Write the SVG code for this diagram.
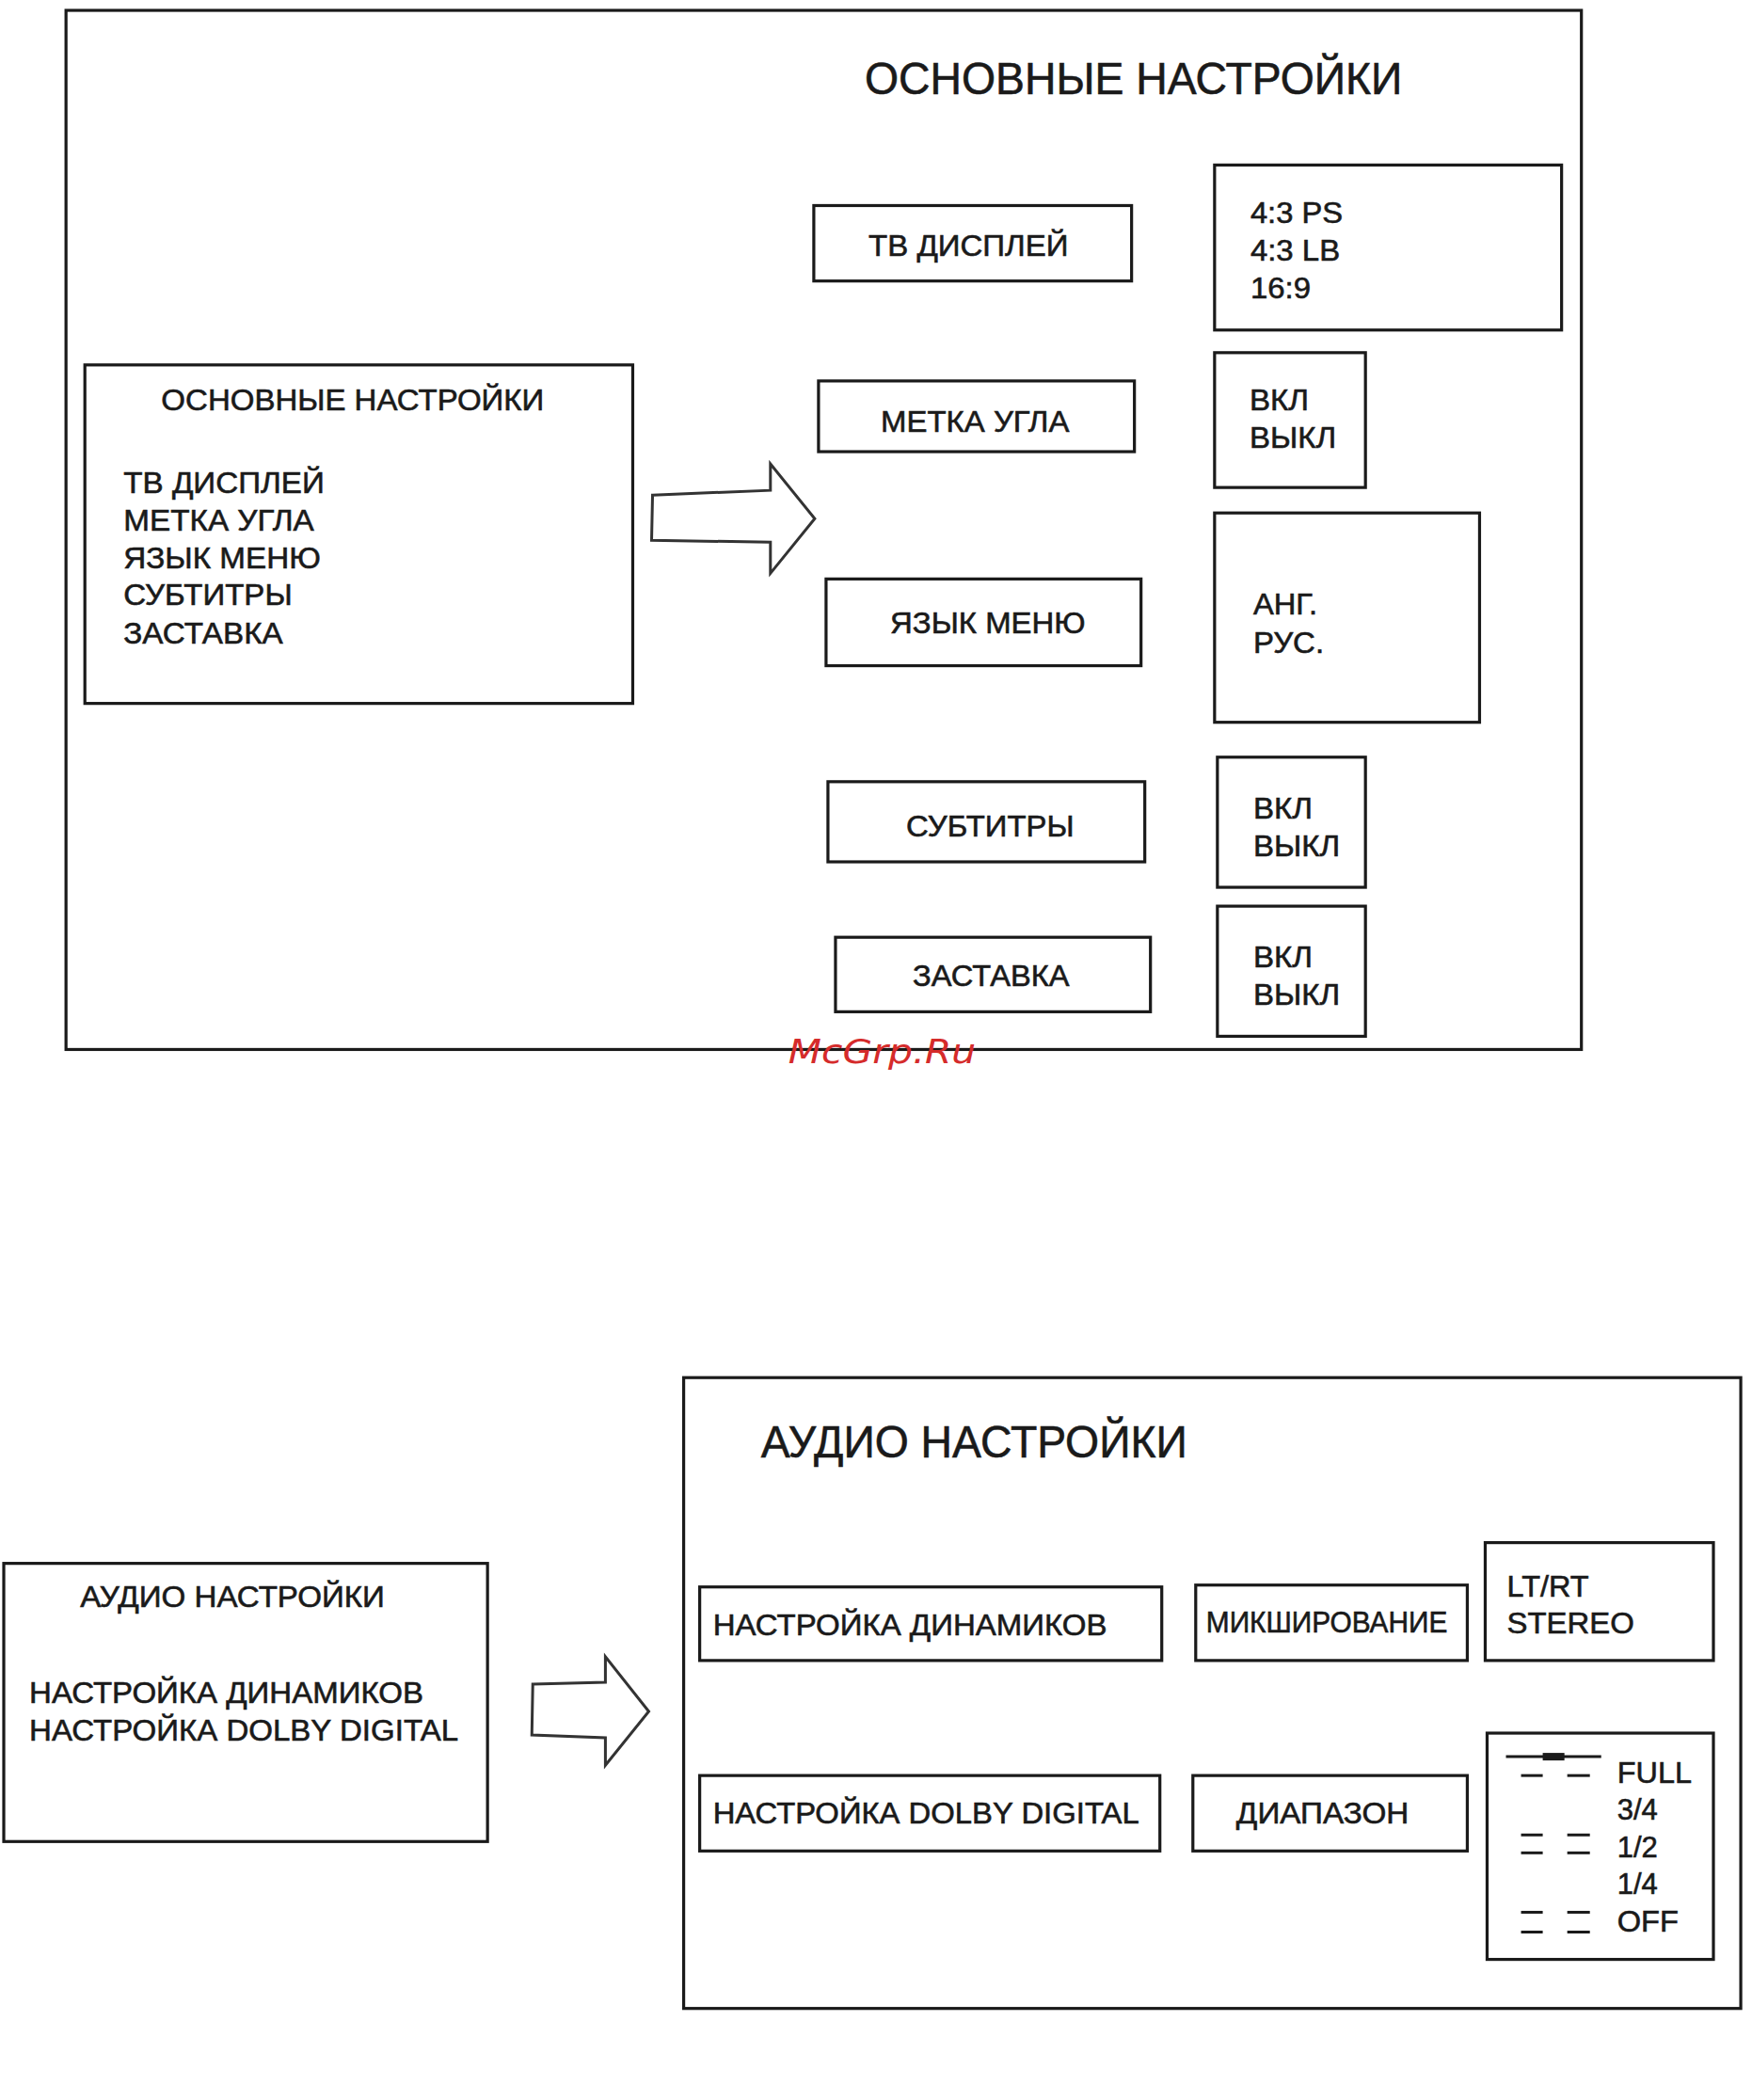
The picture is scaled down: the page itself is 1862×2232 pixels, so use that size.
<svg xmlns="http://www.w3.org/2000/svg" width="1862" height="2232" viewBox="0 0 1862 2232">
<style>
.b{fill:#fff;stroke:#1a1a1a;stroke-width:3.2}
.t{font-family:"Liberation Sans",Arial,sans-serif;font-size:32px;fill:#1a1a1a;stroke:#1a1a1a;stroke-width:0.6}
.h{font-family:"Liberation Sans",Arial,sans-serif;font-size:48px;fill:#1a1a1a;stroke:#1a1a1a;stroke-width:0.6}
.arr{fill:#fff;stroke:#333;stroke-width:3;stroke-linejoin:miter}
.d{stroke:#1a1a1a;stroke-width:3}
.wm{font-family:"DejaVu Sans",Verdana,sans-serif;font-style:italic;font-size:36px;fill:#d52b2b}
</style>
<rect width="1862" height="2232" fill="#fff"/>
<g id="diagram" transform="scale(1.0022)">

<g id="main-panel">
<rect class="b" x="70" y="11" width="1607" height="1102"/>
<text class="h" x="917" y="100" textLength="570" lengthAdjust="spacingAndGlyphs">ОСНОВНЫЕ НАСТРОЙКИ</text>
</g>

<g id="menu-main">
<rect class="b" x="90" y="387" width="581" height="359"/>
<text class="t" x="171" y="435" textLength="406" lengthAdjust="spacingAndGlyphs">ОСНОВНЫЕ НАСТРОЙКИ</text>
<text class="t" x="131" y="523" textLength="213" lengthAdjust="spacingAndGlyphs">ТВ ДИСПЛЕЙ</text>
<text class="t" x="131" y="563" textLength="202" lengthAdjust="spacingAndGlyphs">МЕТКА УГЛА</text>
<text class="t" x="131" y="603" textLength="209" lengthAdjust="spacingAndGlyphs">ЯЗЫК МЕНЮ</text>
<text class="t" x="131" y="642" textLength="179" lengthAdjust="spacingAndGlyphs">СУБТИТРЫ</text>
<text class="t" x="131" y="682" textLength="169" lengthAdjust="spacingAndGlyphs">ЗАСТАВКА</text>
</g>

<g id="tv-display">
<rect class="b" x="863" y="218" width="337" height="80"/>
<text class="t" x="921" y="271" textLength="212" lengthAdjust="spacingAndGlyphs">ТВ ДИСПЛЕЙ</text>
</g>
<g id="tv-options">
<rect class="b" x="1288" y="175" width="368" height="175"/>
<text class="t" x="1326" y="236" textLength="98" lengthAdjust="spacingAndGlyphs">4:3 PS</text>
<text class="t" x="1326" y="276" textLength="95" lengthAdjust="spacingAndGlyphs">4:3 LB</text>
<text class="t" x="1326" y="316" textLength="64" lengthAdjust="spacingAndGlyphs">16:9</text>
</g>

<g id="angle-mark">
<rect class="b" x="868" y="404" width="335" height="75"/>
<text class="t" x="934" y="458" textLength="200" lengthAdjust="spacingAndGlyphs">МЕТКА УГЛА</text>
</g>
<g id="angle-options">
<rect class="b" x="1288" y="374" width="160" height="143"/>
<text class="t" x="1325" y="435" textLength="63" lengthAdjust="spacingAndGlyphs">ВКЛ</text>
<text class="t" x="1325" y="475" textLength="92" lengthAdjust="spacingAndGlyphs">ВЫКЛ</text>
</g>

<g id="menu-lang">
<rect class="b" x="876" y="614" width="334" height="92"/>
<text class="t" x="944" y="672" textLength="207" lengthAdjust="spacingAndGlyphs">ЯЗЫК МЕНЮ</text>
</g>
<g id="lang-options">
<rect class="b" x="1288" y="544" width="281" height="222"/>
<text class="t" x="1329" y="652" textLength="68" lengthAdjust="spacingAndGlyphs">АНГ.</text>
<text class="t" x="1329" y="692" textLength="75" lengthAdjust="spacingAndGlyphs">РУС.</text>
</g>

<g id="subtitles">
<rect class="b" x="878" y="829" width="336" height="85"/>
<text class="t" x="961" y="887" textLength="178" lengthAdjust="spacingAndGlyphs">СУБТИТРЫ</text>
</g>
<g id="subtitle-options">
<rect class="b" x="1291" y="803" width="157" height="138"/>
<text class="t" x="1329" y="868" textLength="63" lengthAdjust="spacingAndGlyphs">ВКЛ</text>
<text class="t" x="1329" y="908" textLength="92" lengthAdjust="spacingAndGlyphs">ВЫКЛ</text>
</g>

<g id="screensaver">
<rect class="b" x="886" y="994" width="334" height="79"/>
<text class="t" x="968" y="1046" textLength="166" lengthAdjust="spacingAndGlyphs">ЗАСТАВКА</text>
</g>
<g id="screensaver-options">
<rect class="b" x="1291" y="961" width="157" height="138"/>
<text class="t" x="1329" y="1026" textLength="63" lengthAdjust="spacingAndGlyphs">ВКЛ</text>
<text class="t" x="1329" y="1066" textLength="92" lengthAdjust="spacingAndGlyphs">ВЫКЛ</text>
</g>

<g id="connectors">
<polygon class="arr" points="692,525 817,520 817,492 864,550 817,608 817,575 691,573"/>
<polygon class="arr" points="565,1786 642,1784 642,1757 688,1815 642,1872 642,1843 564,1840"/>
</g>

<g id="audio-menu">
<rect class="b" x="4" y="1658" width="513" height="295"/>
<text class="t" x="85" y="1704" textLength="323" lengthAdjust="spacingAndGlyphs">АУДИО НАСТРОЙКИ</text>
<text class="t" x="31" y="1806" textLength="418" lengthAdjust="spacingAndGlyphs">НАСТРОЙКА ДИНАМИКОВ</text>
<text class="t" x="31" y="1846" textLength="455" lengthAdjust="spacingAndGlyphs">НАСТРОЙКА DOLBY DIGITAL</text>
</g>

<g id="audio-panel">
<rect class="b" x="725" y="1461" width="1121" height="669"/>
<text class="h" x="807" y="1546" textLength="452" lengthAdjust="spacingAndGlyphs">АУДИО НАСТРОЙКИ</text>
</g>

<g id="speaker-setup">
<rect class="b" x="742" y="1683" width="490" height="78"/>
<text class="t" x="756" y="1734" textLength="418" lengthAdjust="spacingAndGlyphs">НАСТРОЙКА ДИНАМИКОВ</text>
</g>
<g id="downmix">
<rect class="b" x="1268" y="1681" width="288" height="80"/>
<text class="t" x="1279" y="1731" textLength="256" lengthAdjust="spacingAndGlyphs">МИКШИРОВАНИЕ</text>
</g>
<g id="downmix-options">
<rect class="b" x="1575" y="1636" width="242" height="125"/>
<text class="t" x="1598" y="1693" textLength="87" lengthAdjust="spacingAndGlyphs">LT/RT</text>
<text class="t" x="1598" y="1732" textLength="135" lengthAdjust="spacingAndGlyphs">STEREO</text>
</g>

<g id="dolby-setup">
<rect class="b" x="742" y="1883" width="488" height="80"/>
<text class="t" x="756" y="1934" textLength="452" lengthAdjust="spacingAndGlyphs">НАСТРОЙКА DOLBY DIGITAL</text>
</g>
<g id="range">
<rect class="b" x="1265" y="1883" width="291" height="80"/>
<text class="t" x="1311" y="1934" textLength="183" lengthAdjust="spacingAndGlyphs">ДИАПАЗОН</text>
</g>
<g id="range-options">
<rect class="b" x="1577" y="1838" width="240" height="240"/>
<line class="d" x1="1597" y1="1863" x2="1698" y2="1863"/>
<rect x="1636" y="1859" width="23" height="8" fill="#1a1a1a"/>
<line class="d" x1="1613" y1="1883" x2="1636" y2="1883"/>
<line class="d" x1="1662" y1="1883" x2="1686" y2="1883"/>
<line class="d" x1="1613" y1="1946" x2="1636" y2="1946"/>
<line class="d" x1="1662" y1="1946" x2="1686" y2="1946"/>
<line class="d" x1="1613" y1="1965" x2="1636" y2="1965"/>
<line class="d" x1="1662" y1="1965" x2="1686" y2="1965"/>
<line class="d" x1="1613" y1="2028" x2="1636" y2="2028"/>
<line class="d" x1="1662" y1="2028" x2="1686" y2="2028"/>
<line class="d" x1="1613" y1="2049" x2="1636" y2="2049"/>
<line class="d" x1="1662" y1="2049" x2="1686" y2="2049"/>
<text class="t" x="1715" y="1891" textLength="79" lengthAdjust="spacingAndGlyphs">FULL</text>
<text class="t" x="1715" y="1930" textLength="43" lengthAdjust="spacingAndGlyphs">3/4</text>
<text class="t" x="1715" y="1970" textLength="43" lengthAdjust="spacingAndGlyphs">1/2</text>
<text class="t" x="1715" y="2009" textLength="43" lengthAdjust="spacingAndGlyphs">1/4</text>
<text class="t" x="1715" y="2048" textLength="65" lengthAdjust="spacingAndGlyphs">OFF</text>
</g>

<text class="wm" x="836" y="1128" textLength="199" lengthAdjust="spacingAndGlyphs">McGrp.Ru</text>
</g>
</svg>
